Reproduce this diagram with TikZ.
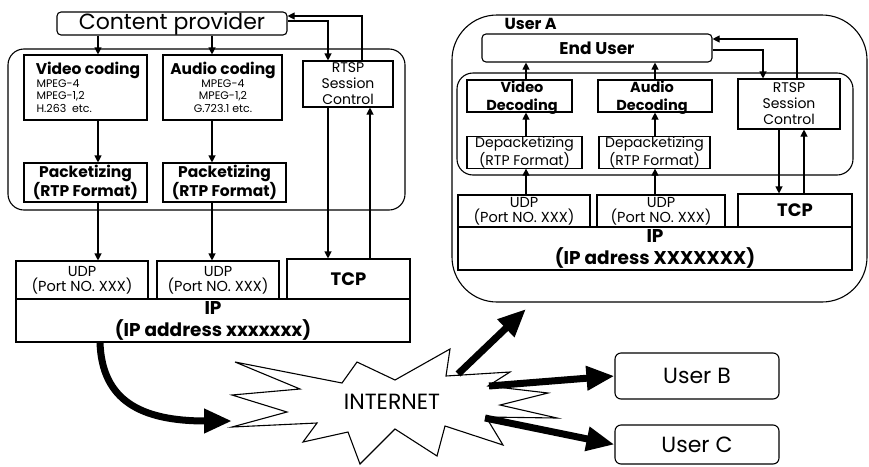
\documentclass[tikz,border=0pt]{standalone}
\usepackage{fontspec}
\setmainfont{Poppins}
\usetikzlibrary{arrows.meta}
\newcommand{\mybox}[7]{\node[bx, minimum width={(#4-#2)*1pt}, minimum height={(#5-#3)*1pt}, #6] (#1) at ({(#2+#4)/2},{(#3+#5)/2}) {#7};}
\tikzset{
  bx/.style={draw, line width=1.1pt, inner sep=0pt, align=center},
  ar/.style={-{Triangle[length=7pt,width=7pt]}, line width=1.1pt},
  fat/.style={-{Triangle[length=28pt,width=23pt]}, line width=7pt},
  fXL/.style={font=\fontsize{22}{24}\selectfont},
  fM/.style={font=\fontsize{15.5}{17}\selectfont\bfseries},
  fS/.style={font=\fontsize{11}{12.5}\selectfont},
  fR/.style={font=\fontsize{14}{16}\selectfont},
  fU/.style={font=\fontsize{14.5}{15}\selectfont},
  fD/.style={font=\fontsize{14}{15.5}\selectfont},
  fT/.style={font=\fontsize{18}{20}\selectfont\bfseries},
  fI/.style={font=\fontsize{18.5}{22}\selectfont\bfseries},
  fN/.style={font=\fontsize{22}{24}\selectfont},
}
\begin{document}
\begin{tikzpicture}[x=1pt,y=-1pt]
\path[use as bounding box] (0,0) rectangle (869,466);
% ---------------- left side ----------------
\mybox{cp}{57}{12}{287}{35}{rounded corners=4pt, fXL}{Content provider}
\mybox{lgrp}{8}{49}{405}{210}{rounded corners=16pt}{}
\mybox{vc}{24}{55}{147}{120}{}{}
\node[fM] (vct) at (88,70) {Video coding};
\node[anchor=north west, align=left, fS] (vcl) at (33,76) {MPEG-4\\MPEG-1,2\\H.263\ \ etc.};
\mybox{ac}{163}{55}{282}{120}{}{}
\node[fM] (act) at (223,70) {Audio coding};
\node[anchor=north, align=center, fS] (acl) at (223,76) {MPEG-4\\MPEG-1,2\\G.723.1 etc.};
\mybox{rs1}{303}{61}{393}{107}{fR}{RTSP\\Session\\Control}
\mybox{pk1}{24}{163}{147}{202}{fM}{Packetizing\\(RTP Format)}
\mybox{pk2}{163}{163}{286}{202}{fM}{Packetizing\\(RTP Format)}
\mybox{ud1}{16}{261}{148}{299}{fU}{UDP\\(Port NO. XXX)}
\mybox{ud2}{157}{261}{279}{299}{fU}{UDP\\(Port NO. XXX)}
\mybox{tc1}{287}{259}{410}{299}{fT}{TCP}
\mybox{ip1}{16}{299}{410}{342}{fI}{IP\\(IP address xxxxxxx)}
% left connectors
\draw[ar] (98,0 |- cp.south) -- (98,0 |- vc.north);
\draw[ar] (212,0 |- cp.south) -- (212,0 |- ac.north);
\draw[ar] (cp.east |- 0,21) -| (328,0 |- rs1.north);
\draw[ar] (362,0 |- rs1.north) |- (cp.east |- 0,16);
\draw[ar] (98,0 |- vc.south) -- (98,0 |- pk1.north);
\draw[ar] (212,0 |- ac.south) -- (212,0 |- pk2.north);
\draw[ar] (98,0 |- pk1.south) -- (98,0 |- ud1.north);
\draw[ar] (212,0 |- pk2.south) -- (212,0 |- ud2.north);
\draw[ar] (328,0 |- rs1.south) -- (328,0 |- tc1.north);
\draw[ar] (370,0 |- tc1.north) -- (370,0 |- rs1.south);
% ---------------- right side (User A) ----------------
\mybox{ua}{452}{15}{867}{302}{rounded corners=45pt}{}
\node[anchor=west, font=\fontsize{16}{18}\selectfont\bfseries] (uat) at (501,24) {User A};
\mybox{eu}{482}{34}{712}{62}{rounded corners=4pt, font=\fontsize{17}{18}\selectfont\bfseries}{End User}
\mybox{rgrp}{457}{73}{853}{175}{rounded corners=16pt}{}
\mybox{vd}{467}{80}{572}{112}{}{}
\node[align=center, font=\fontsize{14.5}{18}\selectfont\bfseries] (vdt) at (522,98) {Video\\Decoding};
\mybox{ad}{598}{80}{712}{112}{}{}
\node[align=center, font=\fontsize{14.5}{18}\selectfont\bfseries] (adt) at (652,98) {Audio\\Decoding};
\mybox{rs2}{738}{79}{840}{129}{fR}{RTSP\\Session\\Control}
\mybox{dp1}{467}{137}{582}{168}{fD}{Depacketizing\\(RTP Format)}
\mybox{dp2}{599}{137}{710}{168}{fD}{Depacketizing\\(RTP Format)}
\mybox{ud3}{458}{195}{590}{227}{fU}{UDP\\(Port NO. XXX)}
\mybox{ud4}{597}{195}{725}{227}{fU}{UDP\\(Port NO. XXX)}
\mybox{tc2}{738}{194}{852}{227}{fT}{TCP}
\mybox{ip2}{458}{227}{852}{270}{fI}{IP\\(IP adress XXXXXXX)}
% right connectors
\draw[ar] (526,0 |- ud3.north) -- (526,0 |- dp1.south);
\draw[ar] (526,0 |- dp1.north) -- (526,0 |- vd.south);
\draw[ar] (526,0 |- vd.north) -- (526,0 |- eu.south);
\draw[ar] (655,0 |- ud4.north) -- (655,0 |- dp2.south);
\draw[ar] (655,0 |- dp2.north) -- (655,0 |- ad.south);
\draw[ar] (655,0 |- ad.north) -- (655,0 |- eu.south);
\draw[ar] (eu.east |- 0,50) -| (763,0 |- rs2.north);
\draw[ar] (797,0 |- rs2.north) |- (eu.east |- 0,39);
\draw[ar] (779,0 |- rs2.south) -- (779,0 |- tc2.north);
\draw[ar] (804,0 |- tc2.north) -- (804,0 |- rs2.south);
% ---------------- internet ----------------
\draw[line width=1.1pt, line join=miter]
  (235,362) -- (342,383) -- (357,362) -- (395,380) -- (450,349) -- (446,376)
  -- (510,372) -- (488,386) -- (548,393) -- (500,405) -- (557,418) -- (486,417)
  -- (503,445) -- (445,426) -- (437,456) -- (395,429) -- (360,464) -- (348,432)
  -- (303,442) -- (317,423) -- (232,427) -- (287,412) -- (232,395) -- (300,389) -- cycle;
\node[fN] (inet) at (392,402) {INTERNET};
\coordinate (inL) at (232,421);
\coordinate (inA) at (458,374);
\coordinate (inB) at (489,386);
\coordinate (inC) at (485,418);
\coordinate (uaIn) at (526,309);
\mybox{ub}{615}{353}{779}{399}{rounded corners=6pt, fN}{User B}
\mybox{uc}{615}{425}{779}{464}{rounded corners=6pt, fN}{User C}
\draw[fat] (100,0 |- ip1.south) .. controls (102,400) and (140,421) .. (inL);
\draw[fat] (inA) -- (uaIn);
\draw[fat] (inB) -- (ub.west);
\draw[fat] (inC) -- (uc.west);
\end{tikzpicture}
\end{document}
